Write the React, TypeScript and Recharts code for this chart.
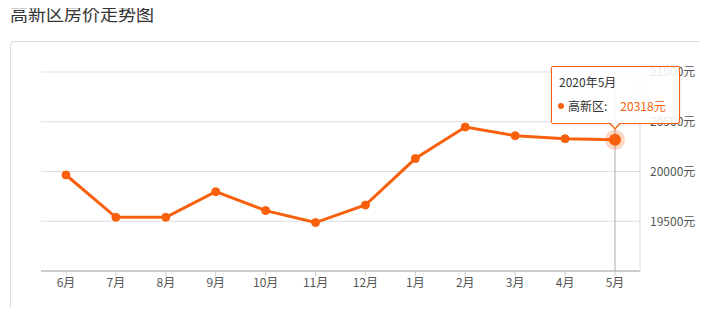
import React from 'react';
import { LineChart, Line, XAxis, YAxis, CartesianGrid, Tooltip } from 'recharts';

const months = ['6月', '7月', '8月', '9月', '10月', '11月', '12月', '1月', '2月', '3月', '4月', '5月'];
const years = ['2019', '2019', '2019', '2019', '2019', '2019', '2019', '2020', '2020', '2020', '2020', '2020'];
const prices = [19965, 19540, 19540, 19797, 19607, 19487, 19663, 20130, 20447, 20360, 20330, 20318];
const yTicks = [19500, 20000, 20500, 21000];

const ORANGE = '#f8600c';
const FONT = '"Noto Sans CJK SC", "Noto Sans", sans-serif';

const data = months.map((m, i) => ({ month: m, year: years[i], price: prices[i] }));

const TipBox = ({ active, payload }: any) => {
  if (!active || !payload || !payload.length) return null;
  const p = payload[0].payload;
  return (
    <div style={{ position: 'relative', width: 127, height: 56, border: `1px solid ${ORANGE}`, borderRadius: 2,
      background: 'rgba(255,255,255,0.88)', boxShadow: '0 0 3px rgba(0,0,0,0.15)', fontFamily: FONT, fontSize: 12, color: '#333' }}>
      <div style={{ position: 'absolute', left: 7, top: 6 }}>{p.year}年{p.month}</div>
      <div style={{ position: 'absolute', left: 6, top: 30, display: 'flex', alignItems: 'center' }}>
        <span style={{ width: 6, height: 6, borderRadius: 3, background: ORANGE, marginRight: 4 }} />
        <span>高新区:</span>
        <span style={{ color: ORANGE, marginLeft: 13 }}>{p.price}元</span>
      </div>
      <div style={{ position: 'absolute', left: 57, bottom: -7, width: 0, height: 0, borderLeft: '6px solid transparent',
        borderRight: '6px solid transparent', borderTop: `7px solid ${ORANGE}` }} />
      <div style={{ position: 'absolute', left: 58, bottom: -5, width: 0, height: 0, borderLeft: '5px solid transparent',
        borderRight: '5px solid transparent', borderTop: '6px solid #fff' }} />
    </div>
  );
};

const BigDot = (props: any) => {
  const { cx, cy } = props;
  return (
    <g>
      <circle cx={cx} cy={cy} r={10} fill={ORANGE} fillOpacity={0.25} />
      <circle cx={cx} cy={cy} r={6} fill={ORANGE} />
    </g>
  );
};

export default function App() {
  return (
    <div style={{ position: 'relative', margin: -8, width: 708, height: 316, background: '#fff', overflow: 'hidden' }}>
      <div style={{ position: 'absolute', left: 10, top: 0, fontFamily: FONT, fontSize: 18, color: '#333', lineHeight: '26px' }}>
        高新区房价走势图
      </div>
      <div style={{ position: 'absolute', left: 10, top: 41, width: 720, height: 300, border: '1px solid #ddd', borderRadius: 4 }} />
      <div style={{ position: 'absolute', left: 0, top: 41 }}>
        <LineChart width={708} height={275} data={data} margin={{ top: 31, right: 0, bottom: 15, left: 41 }}>
          <CartesianGrid vertical={false} stroke="#ddd" />
          <XAxis dataKey="month" padding={{ left: 25, right: 25 }} stroke="#ccc" strokeWidth={2}
            tickLine={{ stroke: '#ccc', strokeWidth: 1 }} tickSize={5} height={30}
            tick={{ fill: '#555', fontSize: 12, fontFamily: FONT }} />
          <YAxis orientation="right" domain={[19000, 21000]} ticks={yTicks} width={68} stroke="#ddd"
            tickLine={false} tickFormatter={(v: number) => `${v}元`} interval={0}
            tick={{ fill: '#555', fontSize: 12, fontFamily: FONT, textAnchor: 'start', dx: 2 }} />
          <Tooltip active defaultIndex={11} content={<TipBox />} position={{ x: 551, y: 25 }}
            cursor={{ stroke: '#aaa', strokeWidth: 1 }} isAnimationActive={false}
            wrapperStyle={{ outline: 'none' }} />
          <Line type="linear" dataKey="price" stroke={ORANGE} strokeWidth={3}
            dot={{ r: 4, fill: ORANGE, stroke: ORANGE, strokeWidth: 1 }} activeDot={<BigDot />}
            isAnimationActive={false} />
        </LineChart>
      </div>
    </div>
  );
}
